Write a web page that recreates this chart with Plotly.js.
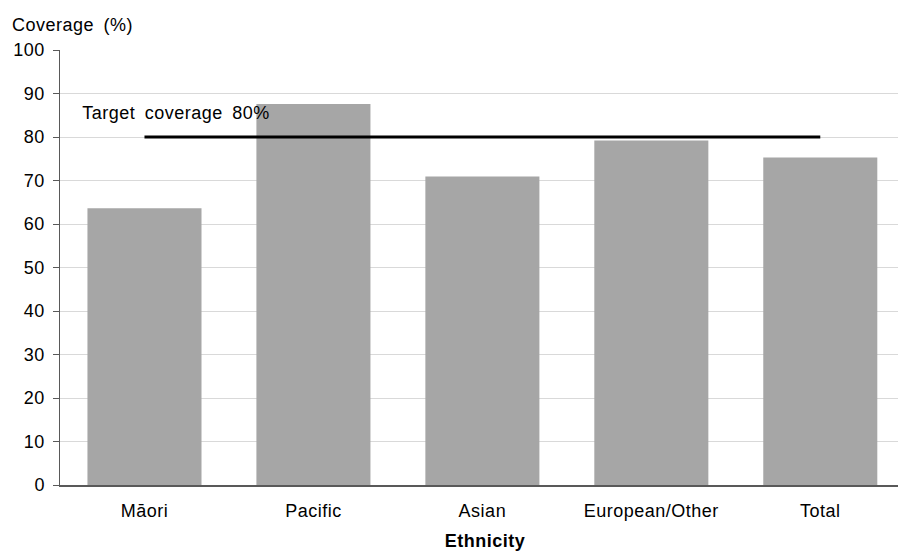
<!DOCTYPE html>
<html>
<head>
<meta charset="utf-8">
<script src="https://cdn.plot.ly/plotly-3.0.1.min.js"></script>
<style>
html,body{margin:0;padding:0;background:#fff;}
#chart{width:898px;height:553px;}
#chart text{letter-spacing:0.5px;word-spacing:4px;}
</style>
</head>
<body>
<div id="chart"></div>
<script>
const categories = ["Māori", "Pacific", "Asian", "European/Other", "Total"];
const coverage = [63.6, 87.6, 70.9, 79.2, 75.3];
const target = [80, 80, 80, 80, 80];
const yTicks = [0, 10, 20, 30, 40, 50, 60, 70, 80, 90, 100];

const font = "Liberation Sans, Arial, sans-serif";

const traces = [
  {
    type: "bar",
    x: categories,
    y: coverage,
    width: 0.675,
    marker: { color: "#a6a6a6", line: { width: 0 } },
    hoverinfo: "x+y"
  },
  {
    type: "scatter",
    mode: "lines",
    x: categories,
    y: target,
    line: { color: "#000000", width: 3 },
    hoverinfo: "y"
  }
];

const layout = {
  width: 898,
  height: 553,
  margin: { l: 59.5, r: 0, t: 49.5, b: 68 },
  paper_bgcolor: "#ffffff",
  plot_bgcolor: "#ffffff",
  showlegend: false,
  font: { family: font, color: "#000000", size: 18 },
  title: {
    text: "Coverage (%)",
    x: 12 / 898, xanchor: "left", xref: "container",
    y: 1 - 25 / 553, yanchor: "middle", yref: "container",
    font: { family: font, size: 18, color: "#000000" }
  },
  xaxis: {
    type: "category",
    range: [-0.5, 4.46],
    showgrid: false,
    showline: true,
    linecolor: "#595959",
    linewidth: 1.5,
    ticks: "",
    ticklabelstandoff: 9,
    tickfont: { family: font, size: 18, color: "#000000" },
    zeroline: false,
    fixedrange: true
  },
  yaxis: {
    range: [0, 100],
    tickvals: yTicks,
    ticktext: yTicks.map(String),
    showgrid: true,
    gridcolor: "#d9d9d9",
    gridwidth: 1,
    showline: true,
    linecolor: "#595959",
    linewidth: 1.5,
    ticks: "outside",
    ticklen: 6,
    tickcolor: "#595959",
    tickwidth: 1,
    ticklabelstandoff: 4,
    tickfont: { family: font, size: 18, color: "#000000" },
    zeroline: false,
    fixedrange: true
  },
  annotations: [
    {
      text: "Target coverage 80%",
      xref: "paper", x: (89 - 59.5) / 838.5, xanchor: "left",
      yref: "y", y: 85.6, yanchor: "middle",
      showarrow: false,
      font: { family: font, size: 18, color: "#000000" }
    },
    {
      text: "<b>Ethnicity</b>",
      xref: "paper", x: (485 - 59.5) / 838.5, xanchor: "center",
      yref: "paper", y: -(541 - 485) / 435.5, yanchor: "middle",
      showarrow: false,
      font: { family: font, size: 18, color: "#000000" }
    }
  ]
};

Plotly.newPlot("chart", traces, layout, { displayModeBar: false, staticPlot: true });
</script>
</body>
</html>
